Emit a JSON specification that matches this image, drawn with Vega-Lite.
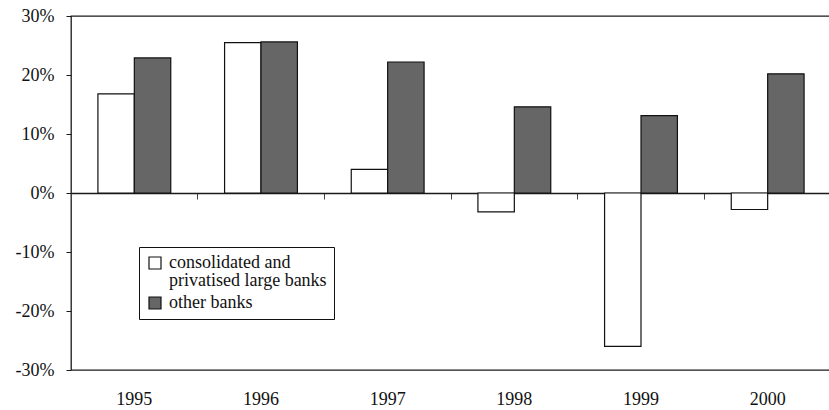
{
  "$schema": "https://vega.github.io/schema/vega-lite/v6.json",
  "width": 760,
  "height": 354,
  "autosize": {"type": "none"},
  "padding": {"left": 71, "top": 16, "right": 0, "bottom": 40},
  "background": "white",
  "config": {
    "view": {"stroke": "#1a1a1a", "strokeWidth": 1.3},
    "font": "Liberation Serif"
  },
  "data": {
    "values": [
      {"year": "1995", "group": "consolidated and privatised large banks", "value": 16.8},
      {"year": "1995", "group": "other banks", "value": 22.9},
      {"year": "1996", "group": "consolidated and privatised large banks", "value": 25.5},
      {"year": "1996", "group": "other banks", "value": 25.6},
      {"year": "1997", "group": "consolidated and privatised large banks", "value": 4.0},
      {"year": "1997", "group": "other banks", "value": 22.2},
      {"year": "1998", "group": "consolidated and privatised large banks", "value": -3.2},
      {"year": "1998", "group": "other banks", "value": 14.6},
      {"year": "1999", "group": "consolidated and privatised large banks", "value": -26.0},
      {"year": "1999", "group": "other banks", "value": 13.1},
      {"year": "2000", "group": "consolidated and privatised large banks", "value": -2.8},
      {"year": "2000", "group": "other banks", "value": 20.2}
    ]
  },
  "layer": [
    {
      "mark": {"type": "bar", "stroke": "#111", "strokeWidth": 1.2},
      "encoding": {
        "x": {
          "field": "year", "type": "nominal",
          "scale": {"paddingInner": 0.425, "paddingOuter": 0.2125},
          "axis": {
            "orient": "bottom", "title": null, "labelAngle": 0, "ticks": false, "domain": false,
            "labelPadding": 20, "labelFontSize": 18, "labelColor": "#111", "labelFont": "Liberation Serif"
          }
        },
        "xOffset": {"field": "group", "type": "nominal", "sort": ["consolidated and privatised large banks", "other banks"]},
        "y": {
          "field": "value", "type": "quantitative",
          "scale": {"domain": [-30, 30], "nice": false},
          "axis": {
            "title": null, "values": [-30, -20, -10, 0, 10, 20, 30], "labelExpr": "datum.value + '%'",
            "grid": false, "domain": false, "tickSize": 5, "tickColor": "#1a1a1a",
            "labelPadding": 12, "labelFontSize": 18, "labelColor": "#111", "labelFont": "Liberation Serif"
          }
        },
        "fill": {
          "field": "group", "type": "nominal",
          "scale": {"domain": ["consolidated and privatised large banks", "other banks"], "range": ["#ffffff", "#666666"]},
          "legend": {
            "orient": "none", "legendX": 68, "legendY": 231, "title": null,
            "strokeColor": "#111", "fillColor": "white", "padding": 7,
            "symbolType": "square", "symbolSize": 144, "symbolStrokeColor": "#111", "symbolStrokeWidth": 1.2,
            "labelFont": "Liberation Serif", "labelFontSize": 18, "labelColor": "#111", "labelOffset": 5,
            "labelLimit": 400, "rowPadding": 4,
            "labelExpr": "datum.label == 'consolidated and privatised large banks' ? ['consolidated and', 'privatised large banks'] : datum.label",
            "encode": {"labels": {"update": {"lineHeight": {"value": 18}}}}
          }
        }
      }
    },
    {
      "mark": {"type": "bar", "opacity": 0},
      "encoding": {
        "x": {
          "field": "year", "type": "nominal",
          "scale": {"paddingInner": 0, "paddingOuter": 0},
          "axis": {
            "orient": "bottom", "offset": -177, "title": null, "labels": false,
            "ticks": true, "tickSize": 6, "tickColor": "#444", "bandPosition": 0,
            "domain": true, "domainColor": "#1a1a1a", "domainWidth": 1.3, "grid": false
          }
        },
        "y": {
          "field": "value", "type": "quantitative",
          "scale": {"domain": [-30, 30], "nice": false},
          "axis": {
            "title": null, "values": [-30, -20, -10, 0, 10, 20, 30], "labelExpr": "datum.value + '%'",
            "grid": false, "domain": false, "tickSize": 5, "tickColor": "#1a1a1a",
            "labelPadding": 12, "labelFontSize": 18, "labelColor": "#111", "labelFont": "Liberation Serif"
          }
        }
      }
    }
  ],
  "resolve": {"axis": {"x": "independent"}, "scale": {"x": "independent"}}
}
